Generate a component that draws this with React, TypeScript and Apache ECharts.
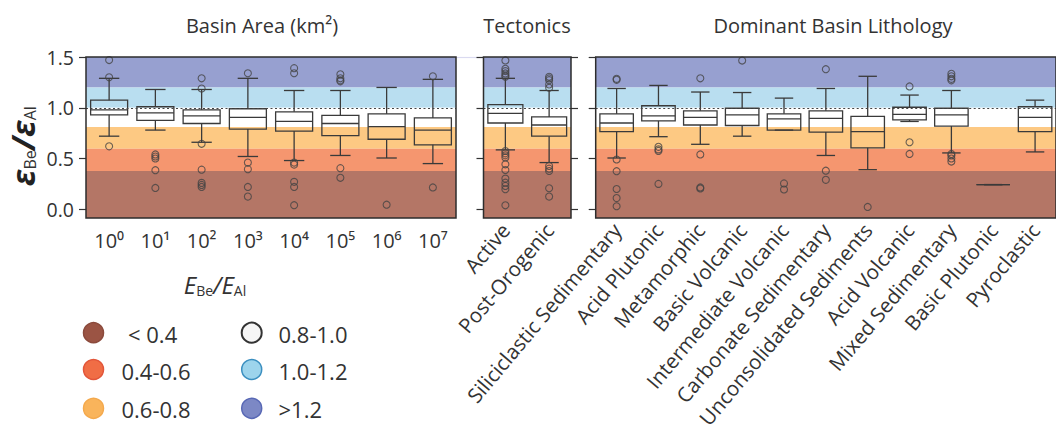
import React, { useEffect, useRef } from "react";
import * as echarts from "echarts";

const FONT = "'Open Sans', 'Noto Sans', sans-serif";
const TXT = "#333333";

const Y_MIN = -0.086;
const Y_MAX = 1.5;
const yTicks = [0, 0.5, 1.0, 1.5];

// colour classes (top to bottom)
const bandEdges = [Y_MAX, 1.2, 1.0, 0.81, 0.595, 0.378, Y_MIN];
const bandColors = ["#97a0d0", "#b9def0", "#ffffff", "#fdc983", "#f5966f", "#b47666"];

// legend
const legendLabels = ["< 0.4", "0.4-0.6", "0.6-0.8", "0.8-1.0", "1.0-1.2", ">1.2"];
const legendFill = ["#9b5444", "#f06d45", "#f9b45b", "#f6f6f6", "#9dd4ec", "#7c88c5"];
const legendStroke = ["#8b4a3c", "#e2563a", "#f4a94d", "#333333", "#3b8fc0", "#5868b5"];

// Panel 1: basin area
const areaCats = ["10⁰", "10¹", "10²", "10³", "10⁴", "10⁵", "10⁶", "10⁷"];
// [low whisker, q1, median, q3, high whisker]
const areaBoxes = [
  [0.72, 0.93, 0.98, 1.075, 1.29],
  [0.78, 0.875, 0.95, 1.01, 1.18],
  [0.66, 0.845, 0.92, 0.98, 1.18],
  [0.52, 0.79, 0.905, 0.99, 1.29],
  [0.48, 0.77, 0.865, 0.96, 1.17],
  [0.53, 0.725, 0.845, 0.925, 1.17],
  [0.505, 0.69, 0.815, 0.94, 1.2],
  [0.45, 0.635, 0.78, 0.9, 1.28],
];
const areaOutliers = [
  [1.47, 1.3, 0.62],
  [0.54, 0.52, 0.5, 0.385, 0.21],
  [1.29, 1.19, 0.645, 0.39, 0.26, 0.24, 0.22],
  [1.34, 0.46, 0.395, 0.22, 0.125],
  [1.39, 1.34, 0.46, 0.44, 0.27, 0.22, 0.04],
  [1.33, 1.29, 1.27, 1.26, 0.405, 0.31],
  [0.045],
  [1.31, 0.215],
];

// Panel 2: tectonics
const tectCats = ["Active", "Post-Orogenic"];
const tectBoxes = [
  [0.585, 0.85, 0.945, 1.03, 1.29],
  [0.46, 0.72, 0.83, 0.91, 1.17],
];
const tectOutliers = [
  [1.466, 1.384, 1.361, 1.338, 1.318, 1.305, 0.574, 0.551, 0.531, 0.511, 0.443, 0.387, 0.302, 0.262, 0.23, 0.197, 0.039],
  [1.305, 1.289, 1.272, 1.23, 1.197, 0.426, 0.4, 0.377, 0.207, 0.125],
];

// Panel 3: lithology
const lithCats = [
  "Siliciclastic Sedimentary",
  "Acid Plutonic",
  "Metamorphic",
  "Basic Volcanic",
  "Intermediate Volcanic",
  "Carbonate Sedimentary",
  "Unconsolidated Sediments",
  "Acid Volcanic",
  "Mixed Sedimentary",
  "Basic Plutonic",
  "Pyroclastic",
];
const lithBoxes = [
  [0.505, 0.765, 0.85, 0.94, 1.19],
  [0.715, 0.87, 0.92, 1.02, 1.22],
  [0.64, 0.83, 0.905, 0.97, 1.155],
  [0.72, 0.825, 0.93, 0.995, 1.15],
  [0.78, 0.78, 0.89, 0.94, 1.095],
  [0.53, 0.76, 0.895, 0.97, 1.19],
  [0.39, 0.605, 0.765, 0.915, 1.31],
  [0.865, 0.88, 0.935, 1.005, 1.125],
  [0.555, 0.82, 0.93, 0.995, 1.17],
  [0.243, 0.243, 0.243, 0.243, 0.243],
  [0.565, 0.765, 0.905, 1.01, 1.075],
];
const lithOutliers = [
  [1.285, 1.275, 0.49, 0.375, 0.2, 0.11, 0.03],
  [0.615, 0.59, 0.575, 0.25],
  [1.29, 0.54, 0.215, 0.205],
  [1.465],
  [0.255, 0.195],
  [1.38, 0.38, 0.29],
  [0.023],
  [1.21, 0.66, 0.545],
  [1.335, 1.31, 1.285, 1.27, 0.545, 0.53, 0.5, 0.47],
  [],
  [],
];

const panelTitles = ["Basin Area (km²)", "Tectonics", "Dominant Basin Lithology"];

export default function App() {
  const ref = useRef<HTMLDivElement>(null);

  useEffect(() => {
    if (!ref.current) return;
    const chart = echarts.init(ref.current, null, { renderer: "svg" });

    const grids = [
      { left: 86, top: 57, width: 370, height: 161 },
      { left: 483.5, top: 57, width: 87.5, height: 161 },
      { left: 595.7, top: 57, width: 469, height: 161 },
    ];
    const cats = [areaCats, tectCats, lithCats];
    const boxes = [areaBoxes, tectBoxes, lithBoxes];
    const outs = [areaOutliers, tectOutliers, lithOutliers];

    const lineStyle = { stroke: "#3a3a3a", lineWidth: 1.3, fill: "none" };

    const series: any[] = [];
    for (let p = 0; p < 3; p++) {
      // colour bands
      series.push({
        type: "custom",
        xAxisIndex: p,
        yAxisIndex: p,
        z: 1,
        silent: true,
        clip: true,
        encode: { x: 0, y: [1, 2] },
        data: bandColors.map((_, i) => [0, bandEdges[i], bandEdges[i + 1]]),
        renderItem: (params: any, api: any) => {
          const cs = params.coordSys;
          const top = api.coord([0, api.value(1)])[1];
          const bot = api.coord([0, api.value(2)])[1];
          return {
            type: "rect",
            shape: { x: cs.x, y: top, width: cs.width, height: bot - top },
            style: { fill: bandColors[params.dataIndex] },
          };
        },
      });
      // boxes
      series.push({
        type: "custom",
        xAxisIndex: p,
        yAxisIndex: p,
        z: 3,
        silent: true,
        encode: { x: 0, y: [1, 2, 3, 4, 5] },
        data: boxes[p].map((b, i) => [i, ...b]),
        renderItem: (params: any, api: any) => {
          const x = api.value(0);
          const lo = api.coord([x, api.value(1)]);
          const q1 = api.coord([x, api.value(2)]);
          const med = api.coord([x, api.value(3)]);
          const q3 = api.coord([x, api.value(4)]);
          const hi = api.coord([x, api.value(5)]);
          const band = api.size([1, 0])[0];
          const bw = band * 0.8;
          const cw = bw * 0.55;
          const cx = lo[0];
          return {
            type: "group",
            children: [
              { type: "line", shape: { x1: cx, y1: q3[1], x2: cx, y2: hi[1] }, style: lineStyle },
              { type: "line", shape: { x1: cx, y1: q1[1], x2: cx, y2: lo[1] }, style: lineStyle },
              { type: "line", shape: { x1: cx - cw / 2, y1: hi[1], x2: cx + cw / 2, y2: hi[1] }, style: lineStyle },
              { type: "line", shape: { x1: cx - cw / 2, y1: lo[1], x2: cx + cw / 2, y2: lo[1] }, style: lineStyle },
              { type: "rect", shape: { x: cx - bw / 2, y: q3[1], width: bw, height: q1[1] - q3[1] }, style: lineStyle },
              { type: "line", shape: { x1: cx - bw / 2, y1: med[1], x2: cx + bw / 2, y2: med[1] }, style: lineStyle },
            ],
          };
        },
      });
      // outliers + reference line
      const pts: number[][] = [];
      outs[p].forEach((arr, i) => arr.forEach((v) => pts.push([i, v])));
      series.push({
        type: "scatter",
        xAxisIndex: p,
        yAxisIndex: p,
        z: 4,
        silent: true,
        symbol: "circle",
        symbolSize: 7,
        data: pts,
        itemStyle: { color: "rgba(0,0,0,0)", borderColor: "#444", borderWidth: 1.1 },
        markLine: {
          silent: true,
          symbol: ["none", "none"],
          label: { show: false },
          lineStyle: { type: [2, 2.5], color: "#444", width: 1.2 },
          data: [{ yAxis: 1 }],
        },
      });
      // frame
      series.push({
        type: "custom",
        xAxisIndex: p,
        yAxisIndex: p,
        z: 10,
        silent: true,
        encode: { x: 0, y: 1 },
        data: [[0, 0]],
        renderItem: (params: any) => {
          const cs = params.coordSys;
          return {
            type: "rect",
            shape: { x: cs.x, y: cs.y, width: cs.width, height: cs.height },
            style: { fill: "none", stroke: "#2d2d2d", lineWidth: 1.5 },
          };
        },
      });
    }

    const xAxes = [0, 1, 2].map((p) => ({
      type: "category",
      gridIndex: p,
      data: cats[p],
      axisLine: { show: false },
      axisTick: { show: true, alignWithLabel: true, length: 5, lineStyle: { color: "#333", width: 1.2 } },
      splitLine: { show: false },
      axisLabel:
        p === 0
          ? { fontFamily: FONT, fontSize: 20, color: TXT, margin: 12 }
          : { fontFamily: FONT, fontSize: 20.5, color: TXT, margin: 8, rotate: 50, interval: 0 },
    }));

    const yBase = (p: number, showLabel: boolean, position?: string) => ({
      type: "value",
      gridIndex: p,
      min: Y_MIN,
      max: Y_MAX,
      position,
      axisLine: { show: false },
      splitLine: { show: false },
      axisTick: { show: true, length: 7, customValues: yTicks, lineStyle: { color: "#333", width: 1.2 } },
      axisLabel: {
        show: showLabel,
        customValues: yTicks,
        formatter: (v: number) => v.toFixed(1),
        fontFamily: FONT,
        fontSize: 19.5,
        color: TXT,
        margin: 12,
      },
    });

    const yAxes = [yBase(0, true), yBase(1, false), yBase(2, false), yBase(1, false, "right")];

    const graphics: any[] = [];
    const titleX = [262, 527, 833];
    panelTitles.forEach((t, i) =>
      graphics.push({
        type: "text",
        x: titleX[i],
        y: 25,
        style: { text: t, fontFamily: FONT, fontSize: 20, fill: TXT, align: "center", verticalAlign: "middle" },
      })
    );
    // faint line between panel 1 and 2
    graphics.push({
      type: "line",
      shape: { x1: 456, y1: 57.5, x2: 483, y2: 57.5 },
      style: { stroke: "#dadaf0", lineWidth: 1.2 },
    });
    // y-axis title
    graphics.push({
      type: "text",
      x: 22,
      y: 146,
      rotation: Math.PI / 2,
      style: {
        text: "{e|ε}{s|Be}{e|/ε}{s|Al}",
        align: "center",
        verticalAlign: "middle",
        fill: "#222",
        rich: {
          e: { fontFamily: FONT, fontSize: 32, fontWeight: "bold", fontStyle: "italic", fill: "#222", lineHeight: 32 },
          s: { fontFamily: FONT, fontSize: 16, fill: "#333", verticalAlign: "bottom", lineHeight: 16 },
        },
      },
    });
    // E_Be / E_Al caption
    graphics.push({
      type: "text",
      x: 215,
      y: 284,
      style: {
        text: "{e|E}{s|Be}{e|/E}{s|Al}",
        align: "center",
        verticalAlign: "middle",
        rich: {
          e: { fontFamily: FONT, fontSize: 24, fontStyle: "italic", fill: TXT, lineHeight: 26 },
          s: { fontFamily: FONT, fontSize: 14, fill: TXT, verticalAlign: "bottom", lineHeight: 14 },
        },
      },
    });
    // legend
    const rowsY = [332.7, 369.5, 408.3];
    legendLabels.forEach((lab, i) => {
      const col = Math.floor(i / 3);
      const row = i % 3;
      const cx = col === 0 ? 93.5 : 251.7;
      graphics.push({
        type: "circle",
        shape: { cx, cy: rowsY[row], r: 10 },
        style: { fill: legendFill[i], stroke: legendStroke[i], lineWidth: col === 1 && row === 0 ? 2 : 1.5 },
      });
      graphics.push({
        type: "text",
        x: col === 0 ? (i === 0 ? 128 : 121.5) : 278.5,
        y: rowsY[row] + 1,
        style: { text: lab, fontFamily: FONT, fontSize: 22, fill: TXT, align: "left", verticalAlign: "middle" },
      });
    });

    chart.setOption({
      animation: false,
      backgroundColor: "#ffffff",
      grid: grids.map((g) => ({ ...g, show: false, containLabel: false })),
      xAxis: xAxes,
      yAxis: yAxes,
      series,
      graphic: graphics,
    });

    return () => chart.dispose();
  }, []);

  return (
    <div
      ref={ref}
      style={{ position: "fixed", left: 0, top: 0, width: 1056, height: 433, background: "#fff" }}
    />
  );
}
